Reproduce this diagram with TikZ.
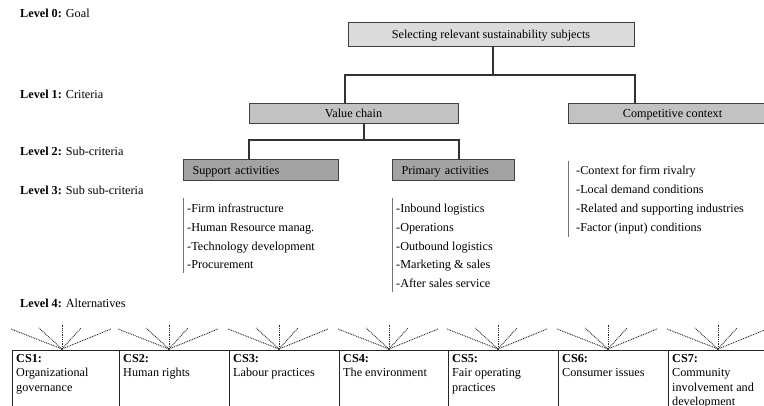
\documentclass[tikz,border=0pt]{standalone}
\usepackage{fontspec}
\setmainfont{Liberation Serif}
\begin{document}
\begin{tikzpicture}[x=1pt,y=-1pt,
  every node/.style={font=\fontsize{12.2}{14}\selectfont, text=black},
  conn/.style={draw=black!80, line width=1.1pt},
  boxbase/.style={draw=black!75, line width=0.9pt, rectangle, inner ysep=0pt,
    text height=9.6pt, text depth=0pt},
  goalbox/.style={boxbase, fill=black!14, inner xsep=0pt, minimum height=24pt},
  critbox/.style={boxbase, fill=black!24, inner xsep=0pt, minimum height=20pt},
  subbox/.style={boxbase, fill=black!36, minimum height=21pt, inner xsep=9.5pt,
    text width=#1, align=left},
  item/.style={anchor=west, inner sep=0pt, text height=8.5pt, text depth=2.5pt},
  lvl/.style={anchor=west, inner sep=0pt, text height=8.5pt, text depth=2.5pt},
  bar/.style={draw=black!55, line width=0.8pt},
  fan/.style={draw=black!85, line width=0.9pt, dash pattern=on 0.9pt off 0.9pt},
  cell/.style={draw=black!85, line width=0.9pt},
  cstext/.style={anchor=north west, inner sep=0pt, align=left,
    font=\fontsize{12.2}{14.2}\selectfont}
]
\useasboundingbox (0,0) rectangle (764,406);
\clip (0,0) rectangle (764,406);

% level captions
\node[lvl] (l0) at (20,15)  {\textbf{Level 0:} Goal};
\node[lvl] (l1) at (20,96)  {\textbf{Level 1:} Criteria};
\node[lvl] (l2) at (20,153) {\textbf{Level 2:} Sub-criteria};
\node[lvl] (l3) at (20,192) {\textbf{Level 3:} Sub sub-criteria};
\node[lvl] (l4) at (20,305) {\textbf{Level 4:} Alternatives};

% goal and criteria
\node[goalbox, minimum width=286pt] (goal) at (491,34) {Selecting relevant sustainability subjects};
\node[critbox, minimum width=209pt] (vc) at (353.5,113) {Value chain};
\node[critbox, minimum width=209pt] (cc) at (672.5,113) {Competitive context};

\coordinate (j0) at (493,75);
\coordinate (j0l) at (345,75);
\coordinate (j0r) at (635,75);
\draw[conn] (goal.south -| j0) -- (j0);
\draw[conn] (j0l |- vc.north) -- (j0l) -- (j0r) -- (j0r |- cc.north);

% sub-criteria
\node[subbox=136pt] (sup) at (260.5,169.5) {Support activities};
\node[subbox=103pt] (pri) at (453,169.5) {Primary activities};

\coordinate (j1) at (364,140);
\coordinate (j1l) at (249,140);
\coordinate (j1r) at (459,140);
\draw[conn] (vc.south -| j1) -- (j1);
\draw[conn] (j1l |- sup.north) -- (j1l) -- (j1r) -- (j1r |- pri.north);

% sub sub-criteria lists
\draw[bar] (183,198) -- (183,273);
\foreach \t [count=\i] in {-Firm infrastructure, -Human Resource manag., -Technology development, -Procurement}
  \node[item] (sa\i) at (187,{210+18.6*(\i-1)}) {\t};

\draw[bar] (392,198) -- (392,292);
\foreach \t [count=\i] in {-Inbound logistics, -Operations, -Outbound logistics, -Marketing \& sales, -After sales service}
  \node[item] (pa\i) at (396,{210+18.6*(\i-1)}) {\t};

\draw[bar] (568,161) -- (568,237);
\foreach \t [count=\i] in {-Context for firm rivalry, -Local demand conditions, -Related and supporting industries, -Factor (input) conditions}
  \node[item] (cc\i) at (576,{172+19*(\i-1)}) {\t};

% alternatives
\draw[cell] (12,350) -- (764,350);
\foreach \L [count=\i] in {12,119,229,339,448,558,668}{
  \draw[cell] (\L,350) -- (\L,406);
  \coordinate (apex\i) at (\L+50,349);
  \draw[fan] (apex\i) -- ++(-51,-20);
  \draw[fan] (apex\i) -- ++(-23,-21);
  \draw[fan] (apex\i) -- ++(0,-24);
  \draw[fan] (apex\i) -- ++(19,-21);
  \draw[fan] (apex\i) -- ++(49,-20);
  \fill[black!80] (apex\i) circle (1.1pt);
}
\node[cstext] (cs1) at (16,354.5)  {\textbf{CS1:}\\Organizational\\governance};
\node[cstext] (cs2) at (123,354.5) {\textbf{CS2:}\\Human rights};
\node[cstext] (cs3) at (233,354.5) {\textbf{CS3:}\\Labour practices};
\node[cstext] (cs4) at (343,354.5) {\textbf{CS4:}\\The environment};
\node[cstext] (cs5) at (452,354.5) {\textbf{CS5:}\\Fair operating\\practices};
\node[cstext] (cs6) at (562,354.5) {\textbf{CS6:}\\Consumer issues};
\node[cstext] (cs7) at (672,354.5) {\textbf{CS7:}\\Community\\involvement and\\development};
\end{tikzpicture}
\end{document}
